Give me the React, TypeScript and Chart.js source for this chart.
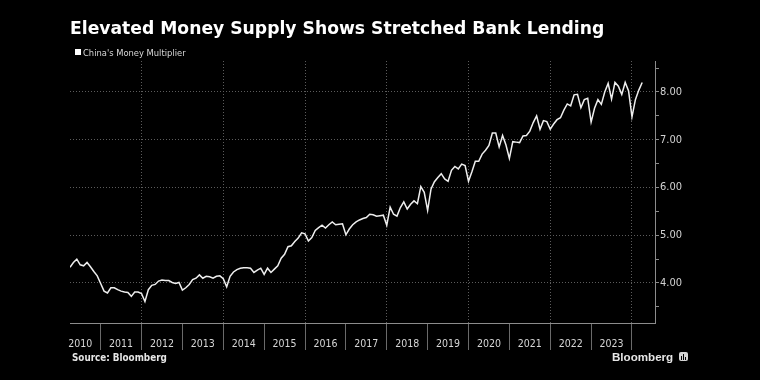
import React, { useEffect, useRef } from "react";
import { Chart, registerables } from "chart.js";

Chart.register(...registerables);

const TITLE = "Elevated Money Supply Shows Stretched Bank Lending";
const LEGEND = "China's Money Multiplier";
const SOURCE = "Source: Bloomberg";
const BRAND = "Bloomberg";

// Monthly values of China's money multiplier
const v2010 = [4.33, 4.43, 4.5, 4.38, 4.36, 4.43, 4.34, 4.24, 4.15]; // Apr–Dec
const v2011 = [3.99, 3.83, 3.79, 3.9, 3.9, 3.86, 3.83, 3.81, 3.8, 3.72, 3.81, 3.81];
const v2012 = [3.78, 3.61, 3.86, 3.95, 3.97, 4.04, 4.06, 4.05, 4.05, 4.01, 3.99, 4.01];
const v2013 = [3.85, 3.9, 3.97, 4.07, 4.1, 4.17, 4.1, 4.14, 4.13, 4.1, 4.14, 4.15];
const v2014 = [4.09, 3.92, 4.14, 4.23, 4.28, 4.31, 4.32, 4.32, 4.31, 4.22, 4.27, 4.31];
const v2015 = [4.18, 4.31, 4.22, 4.29, 4.36, 4.52, 4.6, 4.76, 4.78, 4.87, 4.94, 5.05];
const v2016 = [5.03, 4.88, 4.95, 5.1, 5.16, 5.21, 5.15, 5.22, 5.28, 5.22, 5.23, 5.24];
const v2017 = [5.01, 5.13, 5.22, 5.28, 5.32, 5.35, 5.37, 5.44, 5.43, 5.4, 5.41, 5.42];
const v2018 = [5.21, 5.59, 5.44, 5.4, 5.58, 5.7, 5.55, 5.65, 5.72, 5.66, 6.02, 5.9];
const v2019 = [5.52, 5.97, 6.12, 6.21, 6.29, 6.18, 6.13, 6.36, 6.44, 6.39, 6.49, 6.46];
const v2020 = [6.13, 6.33, 6.55, 6.55, 6.7, 6.78, 6.88, 7.14, 7.14, 6.85, 7.09, 6.89];
const v2021 = [6.61, 6.96, 6.95, 6.94, 7.08, 7.09, 7.18, 7.36, 7.5, 7.22, 7.4, 7.38];
const v2022 = [7.22, 7.33, 7.42, 7.46, 7.62, 7.75, 7.71, 7.94, 7.95, 7.67, 7.84, 7.87];
const v2023 = [7.37, 7.66, 7.84, 7.74, 8.0, 8.18, 7.85, 8.2, 8.12, 7.95, 8.2, 8.02];
const v2024 = [7.48, 7.84, 8.04, 8.2]; // Jan–Apr

// [year, first month index (0 = Jan), values]
const yearSeries: [number, number, number[]][] = [
  [2010, 3, v2010],
  [2011, 0, v2011],
  [2012, 0, v2012],
  [2013, 0, v2013],
  [2014, 0, v2014],
  [2015, 0, v2015],
  [2016, 0, v2016],
  [2017, 0, v2017],
  [2018, 0, v2018],
  [2019, 0, v2019],
  [2020, 0, v2020],
  [2021, 0, v2021],
  [2022, 0, v2022],
  [2023, 0, v2023],
  [2024, 0, v2024],
];

const yearLabels = ["2010", "2011", "2012", "2013", "2014", "2015", "2016", "2017", "2018", "2019", "2020", "2021", "2022", "2023"];
const yearBoundaries = [2011, 2012, 2013, 2014, 2015, 2016, 2017, 2018, 2019, 2020, 2021, 2022, 2023, 2024];
const yTickValues = [3.5, 4, 4.5, 5, 5.5, 6, 6.5, 7, 7.5, 8, 8.5];

const X_MIN = 2010.25;
const X_MAX = 2024.563;
const Y_MIN = 3.162;
const Y_MAX = 8.649;

const COND = '"DejaVu Sans Condensed", "DejaVu Sans", sans-serif';

export default function App() {
  const ref = useRef<HTMLCanvasElement>(null);

  useEffect(() => {
    const canvas = ref.current;
    if (!canvas) return;
    const points: { x: number; y: number }[] = [];
    yearSeries.forEach(([yr, m0, vals]) => {
      vals.forEach((v, i) => points.push({ x: yr + (m0 + i) / 12, y: v }));
    });

    const chart = new Chart(canvas, {
      type: "line",
      data: {
        datasets: [
          {
            label: LEGEND,
            data: points,
            borderColor: "#eeeeee",
            borderWidth: 1.5,
            pointRadius: 0,
            tension: 0,
            fill: false,
          },
        ],
      },
      options: {
        animation: false,
        responsive: false,
        devicePixelRatio: 1,
        layout: { padding: { left: 70, top: 61, right: 0, bottom: 0 } },
        plugins: {
          legend: { display: false },
          tooltip: { enabled: false },
          title: { display: false },
        },
        scales: {
          x: {
            type: "linear",
            position: "bottom",
            min: X_MIN,
            max: X_MAX,
            afterBuildTicks: (s: any) => {
              s.ticks = yearBoundaries.map((v) => ({ value: v }));
            },
            afterFit: (s: any) => {
              s.height = 57;
            },
            grid: {
              color: (c: any) =>
                c.tick && c.tick.value % 2 === 0 ? "#5c5c5c" : "rgba(0,0,0,0)",
              tickColor: "#6a6a6a",
              tickLength: 27,
              lineWidth: 1,
            },
            border: { display: true, color: "#8c8c8c", width: 1, dash: [1, 2] },
            ticks: {
              autoSkip: false,
              maxRotation: 0,
              minRotation: 0,
              labelOffset: -20.44,
              padding: -12,
              color: "#d6d6d6",
              font: { family: COND, size: 10.5 },
              callback: (_v: any, i: number) => yearLabels[i],
            },
          },
          y: {
            type: "linear",
            position: "right",
            min: Y_MIN,
            max: Y_MAX,
            afterBuildTicks: (s: any) => {
              s.ticks = yTickValues.map((v) => ({ value: v }));
            },
            afterFit: (s: any) => {
              s.width = 105;
            },
            grid: {
              color: (c: any) =>
                c.tick && Number.isInteger(c.tick.value) ? "#5c5c5c" : "rgba(0,0,0,0)",
              tickColor: "#8c8c8c",
              tickLength: 4,
              lineWidth: 1,
            },
            border: { display: true, color: "#8c8c8c", width: 1, dash: [1, 2] },
            ticks: {
              autoSkip: false,
              padding: 1,
              color: "#d2d2d2",
              font: { family: COND, size: 11 },
              callback: (v: any) => (Number.isInteger(v) ? Number(v).toFixed(2) : ""),
            },
          },
        },
      },
    });
    return () => chart.destroy();
  }, []);

  return (
    <div
      style={{
        position: "fixed",
        left: 0,
        top: 0,
        width: 760,
        height: 380,
        background: "#000",
        overflow: "hidden",
      }}
    >
      <canvas ref={ref} width={760} height={380} style={{ position: "absolute", left: 0, top: 0, width: 760, height: 380 }} />
      <div
        style={{
          position: "absolute",
          left: 70,
          top: 20.4,
          fontFamily: '"DejaVu Sans", sans-serif',
          fontWeight: 700,
          fontSize: 17.2,
          lineHeight: "17.2px",
          color: "#ffffff",
          whiteSpace: "nowrap",
        }}
      >
        {TITLE}
      </div>
      <div style={{ position: "absolute", left: 75, top: 49, width: 6, height: 6, background: "#ffffff" }} />
      <div
        style={{
          position: "absolute",
          left: 83,
          top: 47.6,
          fontFamily: COND,
          fontSize: 9.3,
          lineHeight: "9.3px",
          color: "#d8d8d8",
          whiteSpace: "nowrap",
        }}
      >
        {LEGEND}
      </div>
      <div
        style={{
          position: "absolute",
          left: 72,
          top: 353.2,
          fontFamily: COND,
          fontWeight: 700,
          fontSize: 9.8,
          lineHeight: "9.8px",
          color: "#e6e6e6",
          whiteSpace: "nowrap",
        }}
      >
        {SOURCE}
      </div>
      <div
        style={{
          position: "absolute",
          left: 612,
          top: 351.2,
          fontFamily: '"Liberation Sans", sans-serif',
          fontWeight: 700,
          fontSize: 11.6,
          lineHeight: "11.6px",
          color: "#e6e6e6",
          whiteSpace: "nowrap",
        }}
      >
        {BRAND}
      </div>
      <div
        style={{
          position: "absolute",
          left: 679,
          top: 352,
          width: 9,
          height: 9,
          background: "#d4d4d4",
          borderRadius: 2,
        }}
      >
        <div style={{ position: "absolute", left: 2, top: 4, width: 1, height: 4, background: "#000" }} />
        <div style={{ position: "absolute", left: 4, top: 2, width: 1, height: 6, background: "#000" }} />
        <div style={{ position: "absolute", left: 6, top: 5, width: 1, height: 3, background: "#000" }} />
      </div>
    </div>
  );
}
